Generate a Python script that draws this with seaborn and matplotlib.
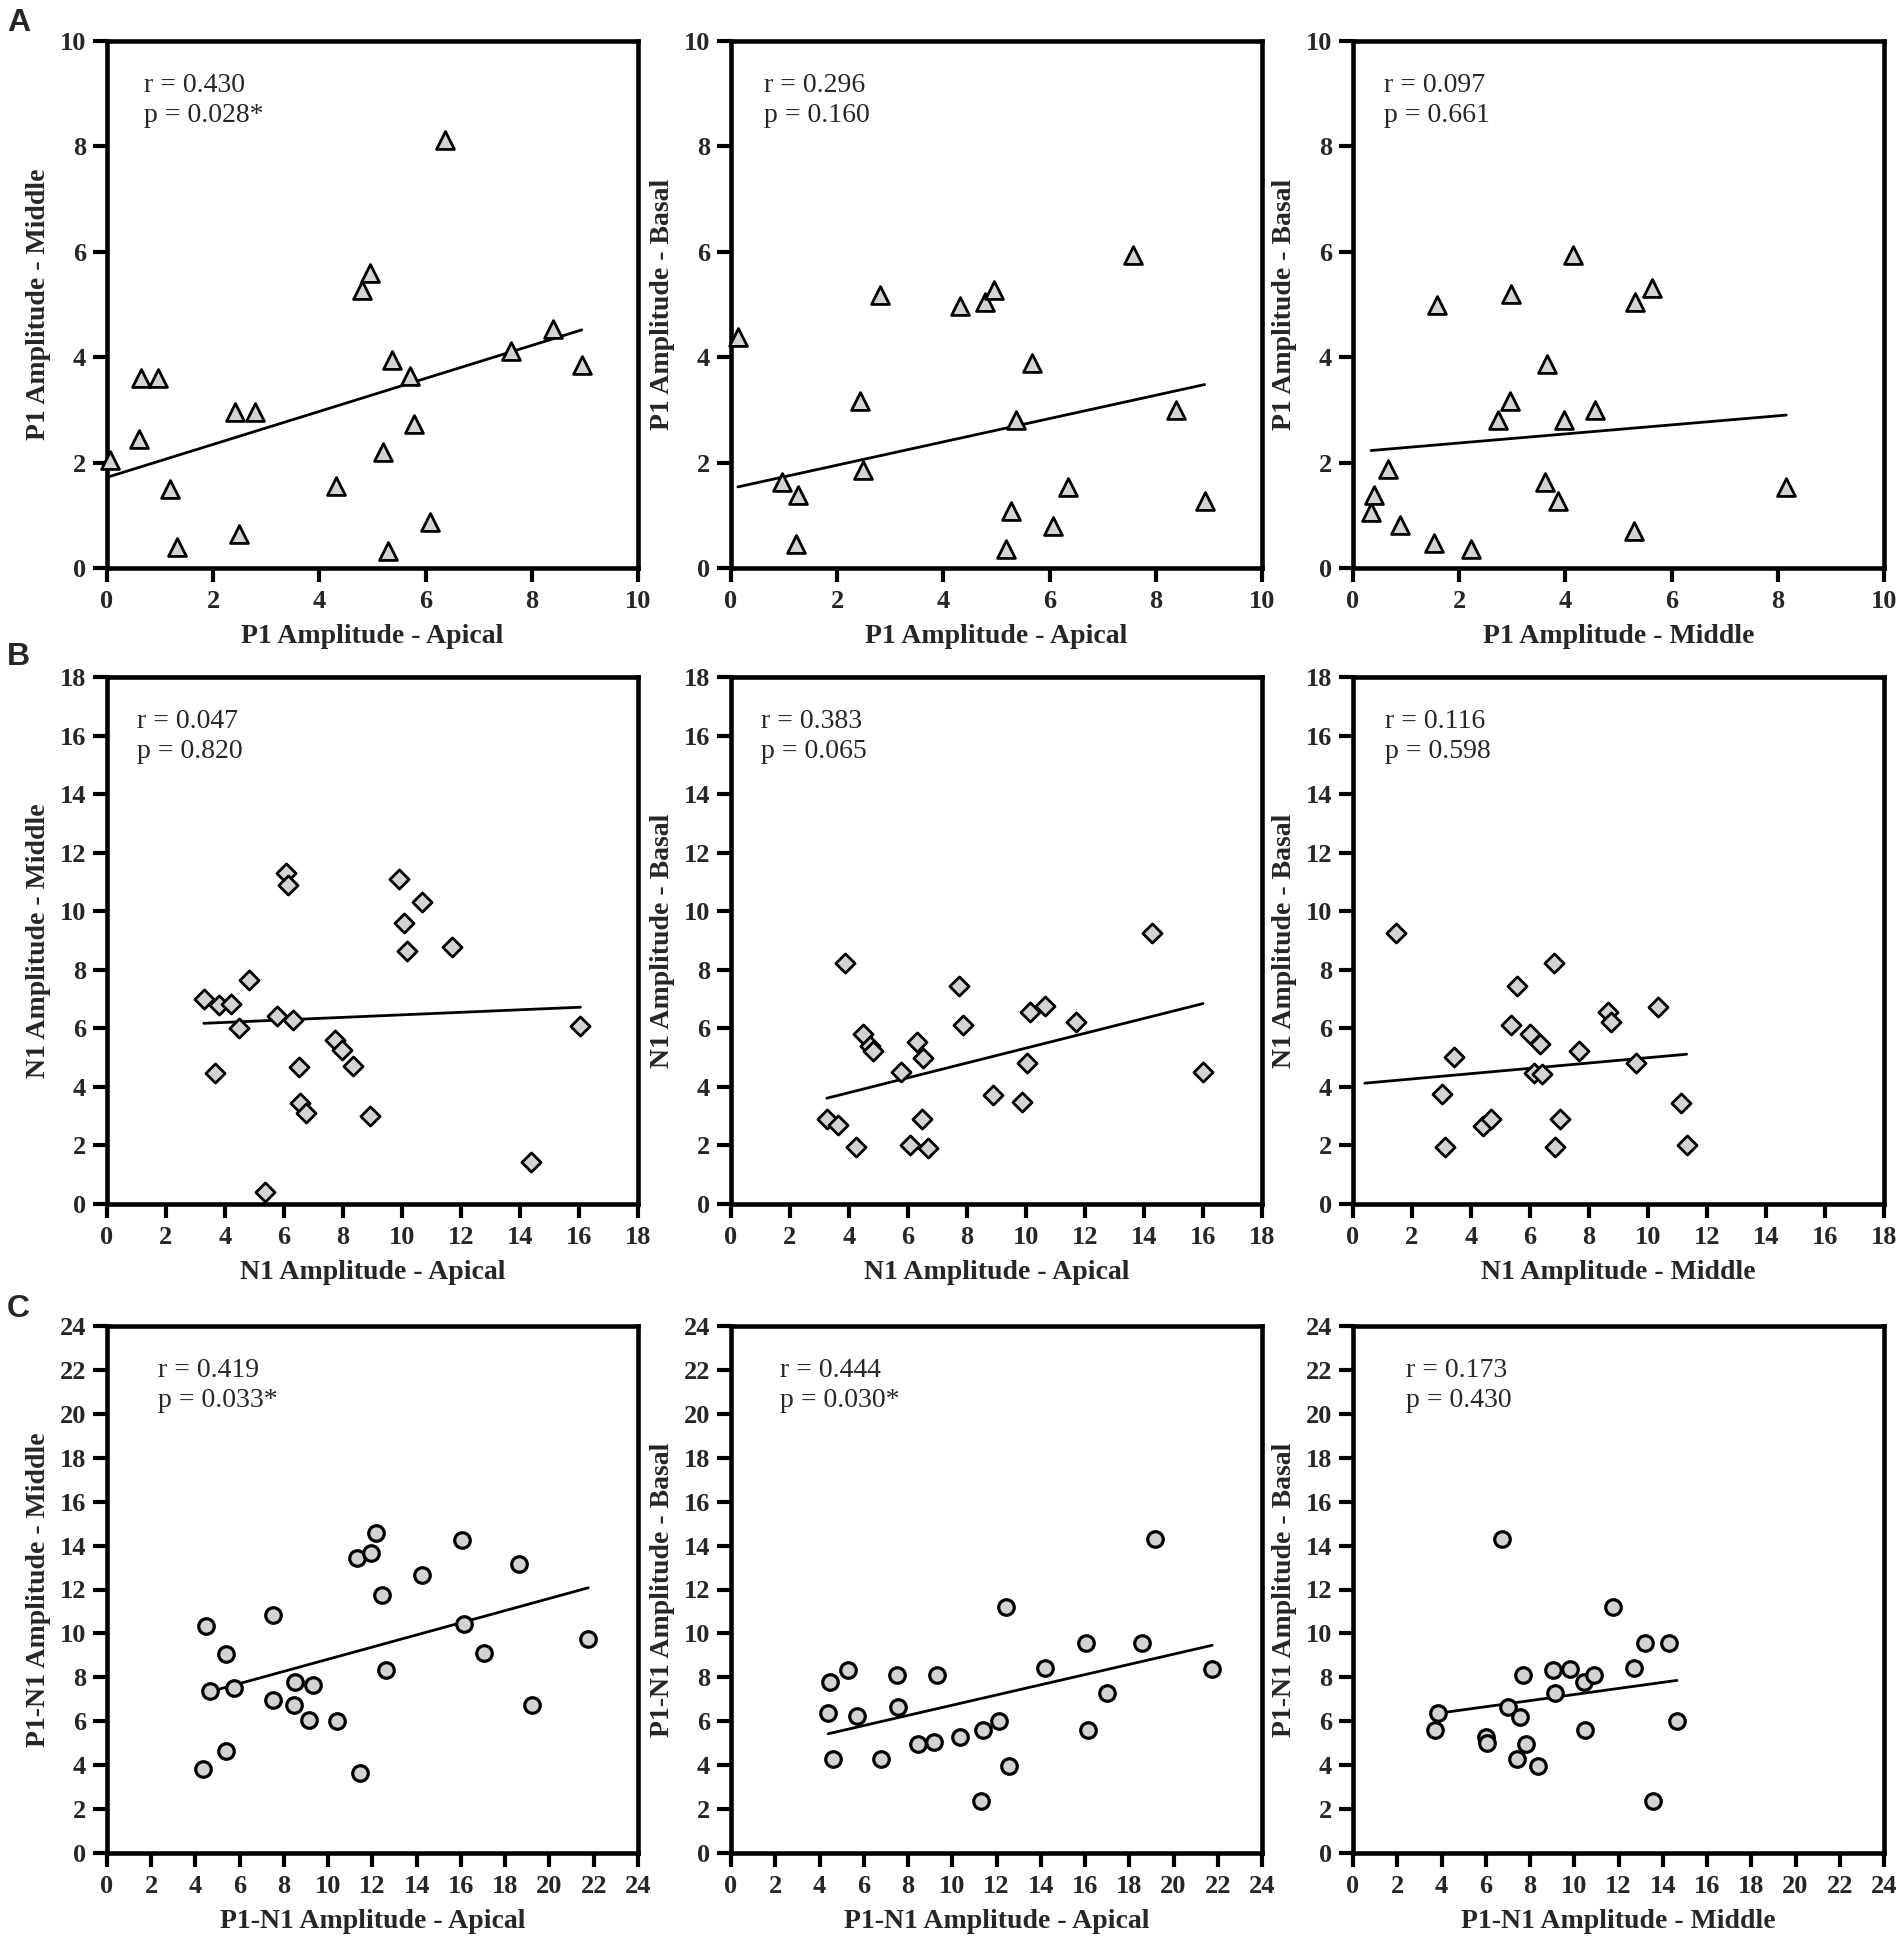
import matplotlib
matplotlib.use("Agg")
import matplotlib.pyplot as plt
import seaborn as sns
import numpy as np

# ---------------- Panel A : P1 amplitude ----------------
a1_x = [0.06, 0.60, 0.64, 0.96, 1.19, 1.31, 2.41, 2.79, 2.48, 4.32, 4.80,
        4.95, 5.36, 5.70, 5.19, 5.78, 5.30, 6.08, 6.37, 7.61, 8.40, 8.94]
a1_y = [2.04, 2.44, 3.61, 3.61, 1.50, 0.39, 2.96, 2.96, 0.65, 1.55, 5.27,
        5.60, 3.94, 3.65, 2.20, 2.74, 0.33, 0.87, 8.13, 4.11, 4.53, 3.85]

a2_x = [0.13, 0.96, 1.26, 1.22, 2.42, 2.49, 2.80, 4.31, 4.78, 4.96, 5.67,
        5.37, 5.28, 5.18, 6.06, 6.34, 7.58, 8.38, 8.92]
a2_y = [4.38, 1.63, 1.39, 0.45, 3.16, 1.86, 5.18, 4.98, 5.04, 5.27, 3.89,
        2.81, 1.08, 0.36, 0.80, 1.54, 5.94, 3.00, 1.27]

a3_x = [0.34, 0.40, 0.66, 0.89, 1.53, 1.58, 2.22, 2.74, 2.96, 2.98, 3.62,
        3.66, 3.87, 3.97, 4.14, 4.55, 5.31, 5.64, 5.30, 8.16]
a3_y = [1.07, 1.38, 1.87, 0.81, 0.47, 4.99, 0.37, 2.80, 3.16, 5.19, 1.63,
        3.87, 1.27, 2.80, 5.94, 3.00, 5.05, 5.31, 0.71, 1.54]

# ---------------- Panel B : N1 amplitude ----------------
b1_x = [3.28, 3.80, 4.21, 3.66, 4.47, 4.82, 5.37, 5.76, 6.32, 6.08, 6.12,
        6.51, 6.53, 6.73, 7.72, 7.95, 8.35, 8.91, 9.90, 10.07, 10.68, 10.16,
        11.71, 14.36, 16.05]
b1_y = [7.01, 6.78, 6.82, 4.47, 6.02, 7.64, 0.40, 6.42, 6.30, 11.29, 10.89,
        4.67, 3.44, 3.11, 5.59, 5.27, 4.73, 3.01, 11.10, 9.60, 10.33, 8.65,
        8.78, 1.43, 6.09]

b2_x = [3.25, 3.62, 3.85, 4.24, 4.48, 4.72, 4.80, 5.75, 6.06, 6.30, 6.52,
        6.49, 6.69, 7.73, 7.87, 8.87, 9.86, 10.03, 10.14, 10.63, 11.68,
        14.28, 16.00]
b2_y = [2.90, 2.69, 8.23, 1.94, 5.79, 5.39, 5.22, 4.50, 2.01, 5.53, 5.00,
        2.90, 1.91, 7.44, 6.11, 3.74, 3.48, 4.81, 6.57, 6.75, 6.21, 9.27, 4.50]

b3_x = [1.47, 3.03, 3.11, 3.44, 4.39, 4.68, 5.35, 5.56, 6.01, 6.33, 6.12,
        6.42, 6.83, 6.84, 7.03, 7.65, 8.66, 8.76, 9.59, 10.34, 11.13, 11.31]
b3_y = [9.25, 3.76, 1.94, 5.02, 2.68, 2.91, 6.13, 7.43, 5.81, 5.48, 4.49,
        4.45, 8.22, 1.94, 2.90, 5.24, 6.57, 6.20, 4.81, 6.74, 3.44, 2.01]

# ---------------- Panel C : P1-N1 amplitude ----------------
c1_x = [4.47, 4.34, 4.66, 5.36, 5.38, 5.74, 7.51, 7.51, 8.43, 8.49, 9.13,
        9.32, 10.38, 11.28, 11.42, 11.94, 12.15, 12.42, 12.62, 14.25, 16.04,
        16.13, 17.02, 18.60, 19.19, 21.75]
c1_y = [10.35, 3.81, 7.40, 9.06, 4.63, 7.52, 10.83, 6.98, 6.75, 7.79, 6.06,
        7.63, 6.02, 13.44, 3.65, 13.65, 14.56, 11.75, 8.33, 12.65, 14.25,
        10.44, 9.10, 13.17, 6.73, 9.75]

c2_x = [4.48, 4.39, 4.61, 5.31, 5.71, 6.78, 7.50, 7.53, 8.47, 9.17, 9.32,
        10.36, 11.30, 11.41, 12.13, 12.43, 12.58, 14.18, 16.03, 16.14, 17.00,
        18.57, 19.15, 21.75]
c2_y = [7.77, 6.36, 4.30, 8.34, 6.22, 4.30, 8.11, 6.65, 4.97, 5.07, 8.09,
        5.26, 2.37, 5.61, 6.03, 11.19, 3.97, 8.44, 9.58, 5.61, 7.28, 9.58,
        14.32, 8.38]

c3_x = [3.69, 3.85, 6.01, 6.07, 6.74, 7.02, 7.43, 7.54, 7.67, 7.84, 8.38,
        9.05, 9.12, 9.80, 10.43, 10.50, 10.89, 11.77, 12.72, 13.22, 13.54,
        14.30, 14.64]
c3_y = [5.61, 6.36, 5.26, 5.03, 14.32, 6.65, 4.30, 6.18, 8.11, 4.97, 3.97,
        8.34, 7.28, 8.38, 7.77, 5.61, 8.11, 11.19, 8.44, 9.58, 2.37, 9.58,
        6.03]

# regression lines: intercept, slope, x-range
fit_intercept = [1.72, 1.51, 2.20, 6.03, 2.79, 4.09, 6.06, 4.41, 5.83]
fit_slope = [0.313, 0.221, 0.086, 0.0431, 0.2535, 0.0907, 0.2767, 0.2322, 0.1387]
fit_xmin = [0.06, 0.13, 0.34, 3.28, 3.25, 0.40, 4.34, 4.39, 3.69]
fit_xmax = [8.94, 8.92, 8.16, 16.05, 16.00, 11.31, 21.75, 21.75, 14.64]

r_text = ["r = 0.430", "r = 0.296", "r = 0.097",
          "r = 0.047", "r = 0.383", "r = 0.116",
          "r = 0.419", "r = 0.444", "r = 0.173"]
p_text = ["p = 0.028*", "p = 0.160", "p = 0.661",
          "p = 0.820", "p = 0.065", "p = 0.598",
          "p = 0.033*", "p = 0.030*", "p = 0.430"]

x_labels = ["P1 Amplitude - Apical", "P1 Amplitude - Apical", "P1 Amplitude - Middle",
            "N1 Amplitude - Apical", "N1 Amplitude - Apical", "N1 Amplitude - Middle",
            "P1-N1 Amplitude - Apical", "P1-N1 Amplitude - Apical", "P1-N1 Amplitude - Middle"]
y_labels = ["P1 Amplitude - Middle", "P1 Amplitude - Basal", "P1 Amplitude - Basal",
            "N1 Amplitude - Middle", "N1 Amplitude - Basal", "N1 Amplitude - Basal",
            "P1-N1 Amplitude - Middle", "P1-N1 Amplitude - Basal", "P1-N1 Amplitude - Basal"]

row_letters = ["A", "B", "C"]
row_max = [10, 18, 24]
row_step = [2, 2, 2]
row_marker = ["^", "D", "o"]

xs_all = [a1_x, a2_x, a3_x, b1_x, b2_x, b3_x, c1_x, c2_x, c3_x]
ys_all = [a1_y, a2_y, a3_y, b1_y, b2_y, b3_y, c1_y, c2_y, c3_y]

sns.set_style("ticks")
plt.rcParams["font.family"] = ["Liberation Serif", "DejaVu Serif"]

W, H = 1902, 1955
fig = plt.figure(figsize=(W / 100, H / 100), dpi=100)

col_left = [107, 731, 1353]
row_top = [41, 677, 1326]
aw, ah = 531, 527
ann_x = [0.07, 0.062, 0.058, 0.056, 0.056, 0.06, 0.096, 0.092, 0.099]
marker_size = {"^": 165, "D": 95, "o": 125}
marker_lw = {"^": 2.0, "D": 2.0, "o": 2.3}
letter_base = [31, 665, 1317]

for i in range(9):
    row, col = divmod(i, 3)
    left = col_left[col]
    top = row_top[row]
    ax = fig.add_axes([left / W, 1 - (top + ah) / H, aw / W, ah / H])

    mk = row_marker[row]
    sns.scatterplot(x=xs_all[i], y=ys_all[i], marker=mk, s=marker_size[mk],
                    color="#d3d3d3", edgecolor="black", linewidth=marker_lw[mk],
                    ax=ax, clip_on=False, zorder=3)

    lx = np.array([fit_xmin[i], fit_xmax[i]])
    ax.plot(lx, fit_intercept[i] + fit_slope[i] * lx, color="black", lw=2.0, zorder=2)

    top_v = row_max[row]
    ticks = np.arange(0, top_v + 1, row_step[row])
    ax.set_xlim(0, top_v)
    ax.set_ylim(0, top_v)
    ax.set_xticks(ticks)
    ax.set_yticks(ticks)
    ax.set_xticklabels([str(t) for t in ticks], fontweight="bold", fontsize=19)
    ax.set_yticklabels([str(t) for t in ticks], fontweight="bold", fontsize=19)
    ax.tick_params(axis="both", direction="out", length=10, width=3.0,
                   top=False, right=False, color="black")
    ax.tick_params(axis="x", pad=6)
    ax.tick_params(axis="y", pad=5)

    for sp in ax.spines.values():
        sp.set_visible(True)
        sp.set_linewidth(3.3)
        sp.set_color("black")

    ax.set_xlabel(x_labels[i], fontsize=20, fontweight="bold", labelpad=8)
    ax.set_ylabel(y_labels[i], fontsize=20, fontweight="bold", labelpad=6)

    ax.text(ann_x[i], 0.904, r_text[i], transform=ax.transAxes, fontsize=20,
            ha="left", va="baseline")
    ax.text(ann_x[i], 0.846, p_text[i], transform=ax.transAxes, fontsize=20,
            ha="left", va="baseline")

for row in range(3):
    fig.text(7 / W, 1 - letter_base[row] / H, row_letters[row], fontsize=23,
             fontweight="bold", family=["Liberation Sans", "DejaVu Sans"],
             ha="left", va="baseline")

fig.savefig("out.png", dpi=100, facecolor="white")
